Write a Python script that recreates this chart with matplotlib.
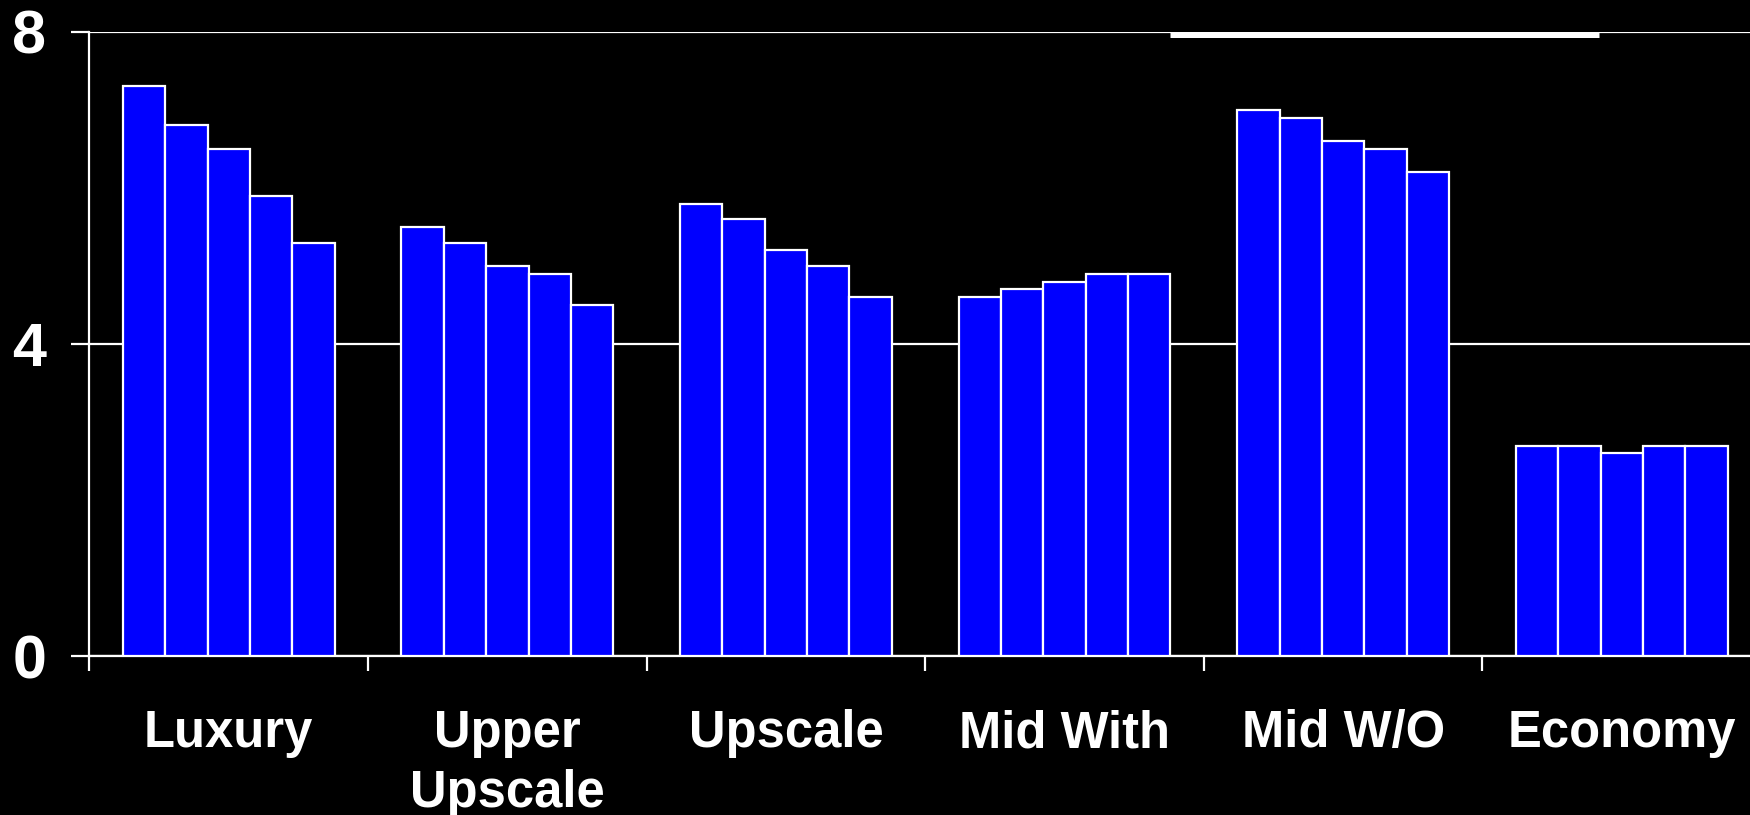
import matplotlib
matplotlib.use("Agg")
import matplotlib.pyplot as plt
import numpy as np

# Hotel segments and the five yearly values shown for each
categories = ["Luxury", "Upper\nUpscale", "Upscale", "Mid With", "Mid W/O", "Economy"]
luxury = [7.3, 6.8, 6.5, 5.9, 5.3]
upper_upscale = [5.5, 5.3, 5.0, 4.9, 4.5]
upscale = [5.8, 5.6, 5.2, 5.0, 4.6]
mid_with = [4.6, 4.7, 4.8, 4.9, 4.9]
mid_wo = [7.0, 6.9, 6.6, 6.5, 6.2]
economy = [2.7, 2.7, 2.6, 2.7, 2.7]
y_ticks = [0, 4, 8]

groups = [luxury, upper_upscale, upscale, mid_with, mid_wo, economy]

plt.rcParams["font.family"] = ["Liberation Sans", "DejaVu Sans"]
plt.rcParams["font.weight"] = "bold"

fig = plt.figure(figsize=(17.5, 8.15), dpi=100, facecolor="black")
ax = fig.add_axes([0.0511, 0.1945, 1.0 - 0.0511, 0.7666])
ax.set_facecolor("black")

n_series = len(groups[0])
bar_w = 0.152
for gi, vals in enumerate(groups):
    xs = gi + 0.5 + (np.arange(n_series) - (n_series - 1) / 2) * bar_w
    ax.bar(xs, vals, width=bar_w, color="#0000FF", edgecolor="white",
           linewidth=1.6, zorder=3)

ax.set_ylim(0, 8)
ax.set_xlim(0, (1750 - 89.5) / 278.6)

# Gridlines and spines
ax.set_yticks(y_ticks)
ax.set_yticklabels([str(t) for t in y_ticks])
ax.yaxis.grid(True, color="white", linewidth=1.6, zorder=1)
ax.set_axisbelow(True)
for side in ["top", "right"]:
    ax.spines[side].set_visible(False)
for side in ["left", "bottom"]:
    ax.spines[side].set_color("white")
    ax.spines[side].set_linewidth(1.6)

# Category boundaries as major ticks, category names centred between them
ax.set_xticks(np.arange(len(categories)))
ax.set_xticklabels([])
ax.set_xticks(np.arange(len(categories)) + 0.5, minor=True)
ax.set_xticklabels(categories, minor=True, linespacing=1.28)

ax.tick_params(axis="x", which="major", direction="out", length=11,
               width=1.6, color="white")
ax.tick_params(axis="x", which="minor", length=0, pad=38,
               labelsize=36.5, labelcolor="white")
ax.tick_params(axis="y", direction="out", length=13, width=1.6,
               color="white", pad=18, labelsize=44, labelcolor="white")
for lbl in ax.get_xticklabels(minor=True) + ax.get_yticklabels():
    lbl.set_fontweight("bold")

# Short heavy rule just under the top gridline
ax.axhline(7.964, xmin=0.651, xmax=0.909, color="white", linewidth=3.6,
           solid_capstyle="butt", zorder=2)

fig.savefig("out.png", dpi=100, facecolor="black")
